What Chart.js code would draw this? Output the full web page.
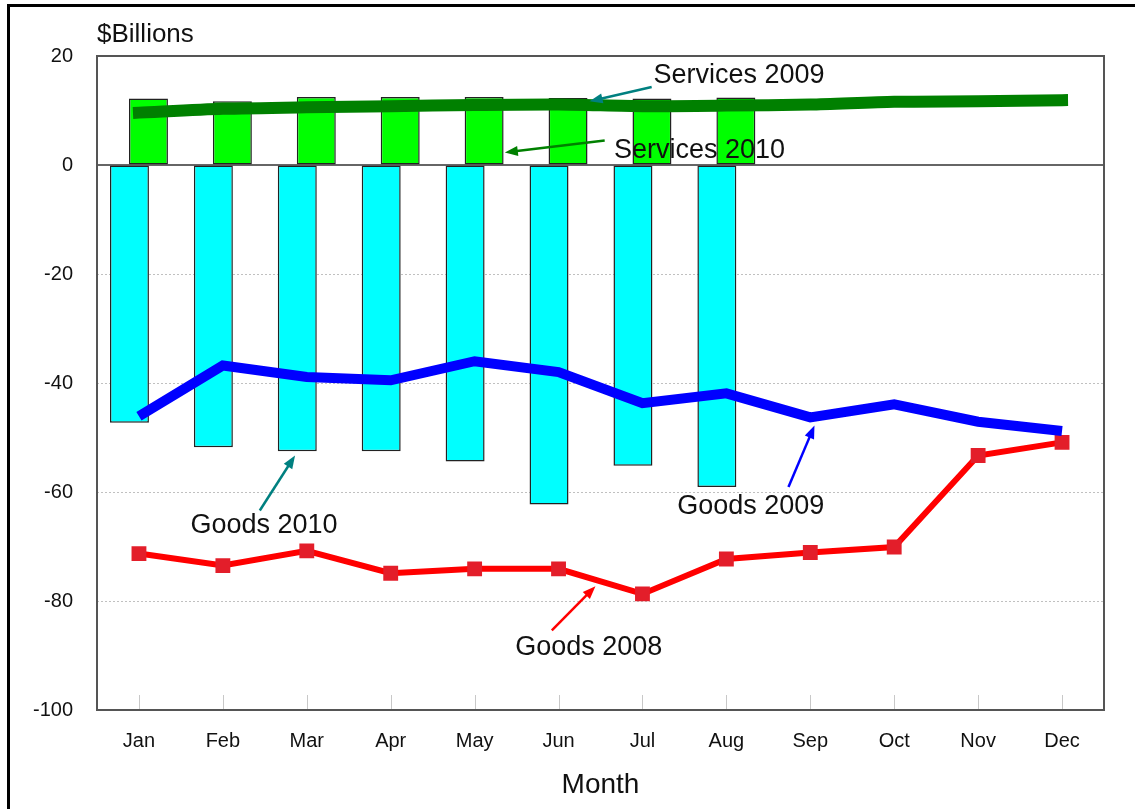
<!DOCTYPE html>
<html>
<head>
<meta charset="utf-8">
<script src="https://cdn.jsdelivr.net/npm/chart.js@4.4.1/dist/chart.umd.min.js"></script>
<style>
  html, body { margin: 0; padding: 0; background: #fff; overflow: hidden; }
  #wrap { position: relative; width: 1135px; height: 809px; }
  #frame { position: absolute; left: 7px; top: 4px; width: 1300px; height: 1000px; border: 3px solid #000; pointer-events: none; }
</style>
</head>
<body>
<div id="wrap">
  <canvas id="chart" width="1135" height="809"></canvas>
  <div id="frame"></div>
</div>
<script>
// months on the x axis
const months = ['Jan', 'Feb', 'Mar', 'Apr', 'May', 'Jun', 'Jul', 'Aug', 'Sep', 'Oct', 'Nov', 'Dec'];

// $ billions
const goods2010 = [-47.3, -51.8, -52.5, -52.5, -54.4, -62.3, -55.2, -59.1, null, null, null, null];
const services2010 = [12.2, 11.7, 12.5, 12.5, 12.5, 12.3, 12.2, 12.4, null, null, null, null];
const goods2009 = [-46.1, -36.8, -38.9, -39.5, -36.0, -38.0, -43.7, -41.9, -46.3, -43.9, -47.1, -48.8];
const services2009 = [9.6, 10.3, 10.6, 10.8, 11.0, 11.1, 10.8, 10.9, 11.1, 11.6, 11.7, 11.9];
const goods2008 = [-71.3, -73.5, -70.8, -74.9, -74.1, -74.1, -78.7, -72.3, -71.1, -70.1, -53.3, -50.9];

const yTicks = [20, 0, -20, -40, -60, -80, -100];

// callout labels: text, anchor (month index, value), arrow from/to (month index, value)
const calloutText = ['Services 2009', 'Services 2010', 'Goods 2010', 'Goods 2009', 'Goods 2008'];
const calloutAt = [[7.15, 16.4], [6.68, 2.6], [1.49, -66.2], [7.29, -62.7], [5.36, -88.6]];
const arrowFrom = [[6.11, 14.3], [5.55, 4.5], [1.44, -63.4], [7.74, -59.1], [4.92, -85.4]];
const arrowTo = [[5.37, 11.7], [4.36, 2.3], [1.86, -53.3], [8.05, -47.8], [5.44, -77.3]];
const arrowColors = ['#008080', '#008000', '#008080', '#0000ff', '#ff0000'];

const FONT = '"Liberation Sans", Arial, sans-serif';

const xAt = (xs, idx) => {
    const a = xs.getPixelForValue(0);
    const b = xs.getPixelForValue(1);
    return a + idx * (b - a);
};

const decorations = {
    id: 'decorations',
    beforeDatasetsDraw(chart) {
        const { ctx, chartArea: area, scales } = chart;
        ctx.save();
        // small ticks at each month, inside the plot
        ctx.strokeStyle = '#c8c8c8';
        ctx.lineWidth = 1;
        months.forEach((m, i) => {
            const x = Math.round(scales.x.getPixelForValue(i)) + 0.5;
            ctx.beginPath();
            ctx.moveTo(x, area.bottom);
            ctx.lineTo(x, area.bottom - 15);
            ctx.stroke();
        });
        ctx.restore();
    },
    afterDatasetsDraw(chart) {
        const { ctx, chartArea: area, scales } = chart;
        ctx.save();
        // zero line
        const y0 = scales.y.getPixelForValue(0);
        ctx.strokeStyle = '#333';
        ctx.lineWidth = 1.5;
        ctx.beginPath();
        ctx.moveTo(area.left, y0);
        ctx.lineTo(area.right, y0);
        ctx.stroke();
        // plot frame
        ctx.strokeStyle = '#555';
        ctx.lineWidth = 2;
        ctx.strokeRect(area.left, area.top, area.right - area.left, area.bottom - area.top);

        // y axis caption
        ctx.fillStyle = '#111';
        ctx.font = '26px ' + FONT;
        ctx.textAlign = 'left';
        ctx.textBaseline = 'middle';
        ctx.fillText('$Billions', area.left, 35);

        // callouts
        calloutText.forEach((t, i) => {
            const x1 = xAt(scales.x, arrowFrom[i][0]);
            const y1 = scales.y.getPixelForValue(arrowFrom[i][1]);
            const x2 = xAt(scales.x, arrowTo[i][0]);
            const y2 = scales.y.getPixelForValue(arrowTo[i][1]);
            const ang = Math.atan2(y2 - y1, x2 - x1);
            ctx.strokeStyle = arrowColors[i];
            ctx.fillStyle = arrowColors[i];
            ctx.lineWidth = 2.5;
            ctx.beginPath();
            ctx.moveTo(x1, y1);
            ctx.lineTo(x2 - 8 * Math.cos(ang), y2 - 8 * Math.sin(ang));
            ctx.stroke();
            ctx.beginPath();
            ctx.moveTo(x2, y2);
            ctx.lineTo(x2 - 13 * Math.cos(ang) + 5 * Math.sin(ang), y2 - 13 * Math.sin(ang) - 5 * Math.cos(ang));
            ctx.lineTo(x2 - 13 * Math.cos(ang) - 5 * Math.sin(ang), y2 - 13 * Math.sin(ang) + 5 * Math.cos(ang));
            ctx.closePath();
            ctx.fill();

            ctx.fillStyle = '#111';
            ctx.font = '27px ' + FONT;
            ctx.textAlign = 'center';
            ctx.textBaseline = 'middle';
            ctx.fillText(t, xAt(scales.x, calloutAt[i][0]), scales.y.getPixelForValue(calloutAt[i][1]));
        });
        ctx.restore();
    }
};

new Chart(document.getElementById('chart'), {
    type: 'bar',
    data: {
        labels: months,
        datasets: [
            {
                type: 'line',
                label: 'Services 2009',
                data: services2009,
                borderColor: '#008000',
                borderWidth: 12,
                pointRadius: 0,
                tension: 0.25,
                borderCapStyle: 'square',
                order: 0
            },
            {
                type: 'line',
                label: 'Goods 2009',
                data: goods2009,
                borderColor: '#0000ff',
                borderWidth: 10,
                pointRadius: 0,
                tension: 0,
                order: 0
            },
            {
                type: 'line',
                label: 'Goods 2008',
                data: goods2008,
                borderColor: '#ff0000',
                borderWidth: 6,
                pointStyle: 'rect',
                pointRadius: 10.5,
                pointBackgroundColor: '#e31e2a',
                pointBorderColor: '#e31e2a',
                pointBorderWidth: 0,
                tension: 0,
                order: 0
            },
            {
                label: 'Goods 2010',
                data: goods2010,
                backgroundColor: '#00ffff',
                borderColor: '#222',
                borderWidth: 1.5,
                borderSkipped: false,
                categoryPercentage: 0.453,
                barPercentage: 2.05,
                order: 1
            },
            {
                label: 'Services 2010',
                data: services2010,
                backgroundColor: '#00ff00',
                borderColor: '#222',
                borderWidth: 1.5,
                borderSkipped: false,
                categoryPercentage: 0.453,
                barPercentage: 2.05,
                order: 1
            }
        ]
    },
    options: {
        responsive: false,
        animation: false,
        layout: { padding: { top: 56, right: 31, left: 0, bottom: 0 } },
        plugins: {
            legend: { display: false },
            tooltip: { enabled: false }
        },
        scales: {
            x: {
                grid: { display: false },
                border: { display: false },
                ticks: { color: '#111', font: { family: FONT, size: 20 }, padding: 11 },
                title: {
                    display: true,
                    text: 'Month',
                    color: '#111',
                    font: { family: FONT, size: 28 },
                    padding: { top: 0, bottom: 7 }
                },
                afterFit(scale) { scale.height = 99; }
            },
            y: {
                min: -100,
                max: 20,
                afterBuildTicks(scale) { scale.ticks = yTicks.map(v => ({ value: v })); },
                grid: {
                    drawTicks: false,
                    color: ctx => (ctx.tick && [-20, -40, -60, -80].includes(ctx.tick.value)) ? '#c0c0c0' : 'rgba(0,0,0,0)',
                    lineWidth: 1
                },
                border: { display: false, dash: [2, 2] },
                ticks: { color: '#111', font: { family: FONT, size: 20 }, padding: 24 },
                afterFit(scale) { scale.width = 97; }
            }
        }
    },
    plugins: [decorations]
});
</script>
</body>
</html>
